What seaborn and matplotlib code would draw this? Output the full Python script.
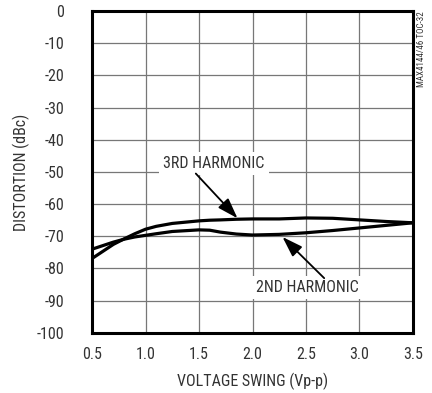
import numpy as np
import pandas as pd
import matplotlib
matplotlib.use("Agg")
import matplotlib.pyplot as plt
import matplotlib.font_manager as fm
import seaborn as sns

# values
swing = [0.5, 0.6, 0.7, 0.8, 0.9, 1.0, 1.1, 1.25, 1.5, 1.6, 1.7, 1.85, 2.0, 2.25, 2.5, 2.75, 3.0, 3.25, 3.5]
third = [-76.9, -74.7, -72.5, -70.8, -69.2, -67.8, -66.9, -66.0, -65.2, -65.0, -64.9, -64.7, -64.6, -64.6, -64.3, -64.4, -64.9, -65.4, -65.8]
second = [-74.0, -72.9, -71.8, -70.9, -70.2, -69.7, -69.2, -68.5, -68.0, -68.1, -68.7, -69.3, -69.6, -69.4, -68.9, -68.2, -67.4, -66.6, -65.8]

xticks = [0.5, 1.0, 1.5, 2.0, 2.5, 3.0, 3.5]
yticks = list(range(-100, 1, 10))

sns.set_style("white")
names = {f.name for f in fm.fontManager.ttflist}
fam = [n for n in ["Liberation Sans Narrow", "Roboto Condensed", "DejaVu Sans Condensed"] if n in names]
plt.rcParams["font.family"] = fam + ["DejaVu Sans"]
plt.rcParams["font.stretch"] = "condensed"

FS = 11.5
TC = "#333333"

df = pd.DataFrame({"swing": swing, "third": third, "second": second})

fig = plt.figure(figsize=(4.32, 3.93), dpi=100)
ax = fig.add_axes([0.213, 0.153, 0.743, 0.819])

sns.lineplot(data=df, x="swing", y="third", ax=ax, color="black", lw=2.3)
sns.lineplot(data=df, x="swing", y="second", ax=ax, color="black", lw=2.3)

ax.set_xlim(0.5, 3.5)
ax.set_ylim(-100, 0)
ax.set_xticks(xticks)
ax.set_xticklabels([f"{v:.1f}" for v in xticks])
ax.set_yticks(yticks)
ax.set_yticklabels([str(v) for v in yticks])
ax.grid(True, color="#777777", lw=0.9)
ax.tick_params(axis="x", length=0, labelsize=FS, pad=10, colors=TC)
ax.tick_params(axis="y", length=0, labelsize=FS, pad=20, colors=TC)
for s in ax.spines.values():
    s.set_visible(True)
    s.set_color("black")
    s.set_linewidth(2.2)

ax.set_xlabel("VOLTAGE SWING (Vp-p)", fontsize=FS, color=TC, labelpad=8, fontweight="normal")
ax.set_ylabel("DISTORTION (dBc)", fontsize=FS, color=TC, labelpad=5, fontweight="normal")

box = dict(boxstyle="square,pad=0.25", fc="white", ec="none")
arrow = dict(arrowstyle="-|>,head_length=0.9,head_width=0.3", color="black", lw=1.3,
             mutation_scale=14, shrinkA=0, shrinkB=0)
ax.text(1.64, -47.5, "3RD HARMONIC", ha="center", va="center", fontsize=FS, color=TC, bbox=box)
ax.annotate("", xy=(1.86, -64.4), xytext=(1.47, -50.5), arrowprops=arrow)
ax.text(2.51, -86.0, "2ND HARMONIC", ha="center", va="center", fontsize=FS, color=TC, bbox=box)
ax.annotate("", xy=(2.28, -70.2), xytext=(2.67, -83.0), arrowprops=arrow)

fig.text(0.975, 0.875, "MAX4144/46 TOC-32", rotation=90, fontsize=6.5,
         color="#333333", ha="center", va="center")

fig.savefig("out.png", dpi=100)
